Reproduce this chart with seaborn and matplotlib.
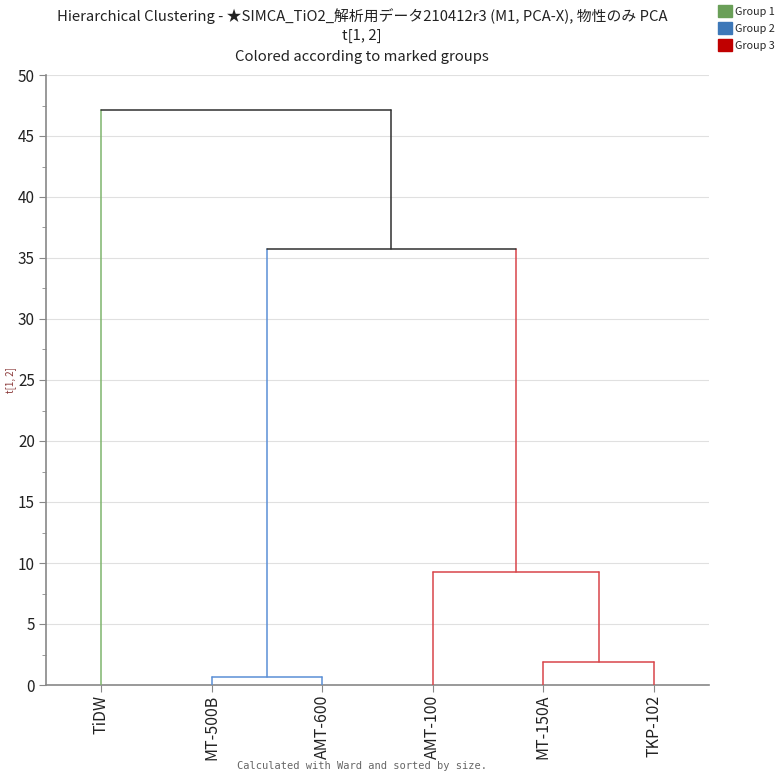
import numpy as np
import matplotlib.pyplot as plt
from matplotlib.patches import Patch
import seaborn as sns

# leaves in display order
leaves = ['TiDW', 'MT-500B', 'AMT-600', 'AMT-100', 'MT-150A', 'TKP-102']
leaf_colors = ['#7fb56d', '#5b8fd6', '#5b8fd6', '#d9454a', '#d9454a', '#d9454a']
# merges: (left child, right child, height, colour); children are leaf
# indices or ('n', k) for earlier merges
merges = [
    (1, 2, 0.65, '#5b8fd6'),
    (4, 5, 1.9, '#d9454a'),
    (3, ('n', 1), 9.25, '#d9454a'),
    (('n', 0), ('n', 2), 35.7, '#303030'),
    (0, ('n', 3), 47.1, '#303030'),
]
group_names = ['Group 1', 'Group 2', 'Group 3']
group_colors = ['#6a9f58', '#3d78b8', '#c00000']

sns.set_style('white')
plt.rcParams['font.family'] = ['Noto Sans CJK JP', 'DejaVu Sans']

fig = plt.figure(figsize=(7.79, 7.76), dpi=100)
ax = fig.add_axes([46 / 779, 1 - 685 / 776, (709 - 46) / 779, (685 - 75) / 776])

nodes = []
for a, b, h, c in merges:
    ends = []
    for ch in (a, b):
        if isinstance(ch, tuple):
            x, y, cc = nodes[ch[1]]
        else:
            x, y, cc = float(ch), 0.0, leaf_colors[ch]
        # vertical leg takes the colour of the child it leads to
        ax.plot([x, x], [y, h], color=cc, lw=1.1, zorder=3)
        ends.append(x)
    ax.plot(ends, [h, h], color=c, lw=1.1, zorder=3)
    nodes.append(((ends[0] + ends[1]) / 2, h, c))

ax.set_xlim(-0.5, len(leaves) - 0.5)
ax.set_ylim(0, 50)
ax.set_yticks(np.arange(0, 51, 5))
ax.set_yticks(np.arange(0, 50, 2.5), minor=True)
ax.set_xticks(range(len(leaves)))
ax.set_xticklabels(leaves, rotation=90, fontsize=11.5, color='#222222')
ax.tick_params(axis='y', labelsize=11, labelcolor='#222222', which='major',
               left=True, length=5, color='#888888', pad=3)
ax.tick_params(axis='y', which='minor', left=True, length=3, color='#888888')
ax.tick_params(axis='x', bottom=True, length=5, color='#888888', pad=2)
ax.grid(axis='y', color='#e0e0e0', lw=0.8)
ax.set_axisbelow(True)
for s in ['top', 'right']:
    ax.spines[s].set_visible(False)
for s in ['left', 'bottom']:
    ax.spines[s].set_color('#888888')
    ax.spines[s].set_linewidth(1.2)

ax.set_ylabel('t[1, 2]', fontsize=7, color='#8b3a3a')
ax.yaxis.set_label_coords(-0.045, 0.5)

fig.text(0.465, 1 - 16 / 776,
         'Hierarchical Clustering - ★SIMCA_TiO2_解析用データ210412r3 (M1, PCA-X), 物性のみ PCA',
         ha='center', va='center', fontsize=10.7, color='#222222',
         family=['Noto Sans CJK JP', 'DejaVu Sans'])
fig.text(0.465, 1 - 36 / 776, 't[1, 2]', ha='center', va='center',
         fontsize=10.7, color='#222222')
fig.text(0.465, 1 - 57 / 776, 'Colored according to marked groups',
         ha='center', va='center', fontsize=10.7, color='#222222')
fig.text(0.465, 1 - 766 / 776, 'Calculated with Ward and sorted by size.',
         ha='center', va='center', fontsize=7.5, color='#666666',
         family='DejaVu Sans Mono')

handles = [Patch(facecolor=c, edgecolor=c) for c in group_colors]
fig.legend(handles, group_names, loc='upper right', bbox_to_anchor=(1.003, 1.002),
           frameon=False, fontsize=7.8, handlelength=1.35, handleheight=1.35,
           handletextpad=0.25, labelspacing=0.45, borderaxespad=0.2)

fig.savefig('out.png', dpi=100)
